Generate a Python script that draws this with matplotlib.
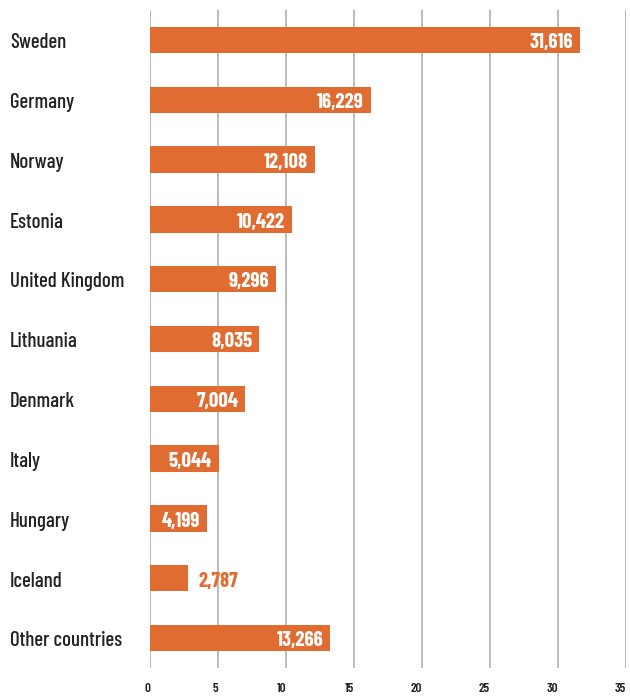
import matplotlib
matplotlib.use("Agg")
import matplotlib.pyplot as plt
import matplotlib.transforms as mt

countries = ["Sweden", "Germany", "Norway", "Estonia", "United Kingdom", "Lithuania",
             "Denmark", "Italy", "Hungary", "Iceland", "Other countries"]
values = [31616, 16229, 12108, 10422, 9296, 8035, 7004, 5044, 4199, 2787, 13266]
xticks = [0, 5, 10, 15, 20, 25, 30, 35]

plt.rcParams['font.family'] = ['Barlow Condensed', 'DejaVu Sans']

orange = "#E06C32"
dark = "#222222"
fig = plt.figure(figsize=(6.3, 6.98), dpi=100)
ax = fig.add_axes([150/630, 1-668/698, 476/630, 658/698])

vals_k = [v/1000 for v in values]
ypos = list(range(len(countries)))
ax.barh(ypos, vals_k, height=0.44, color=orange, zorder=3)
ax.set_xlim(0, 35)
ax.set_ylim(len(countries)-0.5, -0.5)
for x in xticks:
    ax.axvline(x, color="#bdbdbd", lw=1.5, zorder=1)
for s in ax.spines.values():
    s.set_visible(False)
ax.set_yticks([])
ax.set_xticks(xticks)
ax.set_xticklabels([str(t) for t in xticks], fontsize=9.5, fontweight='semibold',
                   color=dark, ha='right')
ax.tick_params(axis='x', length=0, pad=11)

shift = mt.ScaledTranslation(0, -2/72, fig.dpi_scale_trans)
tr = mt.blended_transform_factory(fig.transFigure, ax.transData) + shift
for y, c in zip(ypos, countries):
    fig.text(10/630, y, c, transform=tr, ha='left', va='center', fontsize=15,
             fontweight='medium', color=dark)

trv = ax.transData + shift
for y, v, vk in zip(ypos, values, vals_k):
    lab = f"{v:,}"
    if vk < 4:
        ax.text(vk + 0.75, y, lab, ha='left', va='center', color=orange, fontsize=15,
                fontweight='bold', zorder=4, transform=trv)
    else:
        ax.text(vk - 0.5, y, lab, ha='right', va='center', color="white", fontsize=15,
                fontweight='bold', zorder=4, transform=trv)

fig.savefig("out.png", dpi=100)
